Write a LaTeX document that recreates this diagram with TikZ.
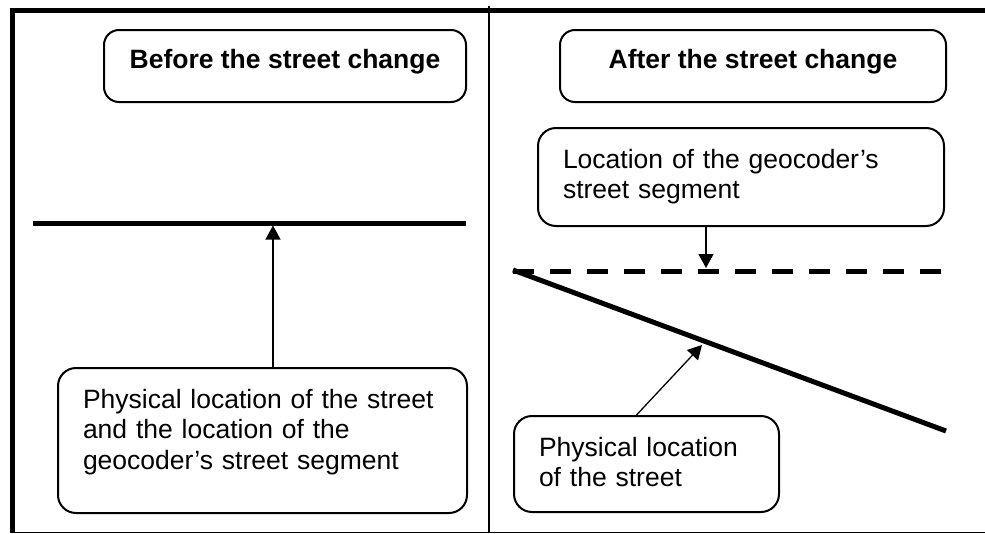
\documentclass[tikz,border=0pt]{standalone}
\usepackage{fontspec}
\setmainfont{Liberation Sans}
\usetikzlibrary{arrows.meta}
\begin{document}
\begin{tikzpicture}[x=1pt,y=-1pt,
  headbox/.style={draw, line width=2pt, rounded corners=15pt, inner sep=0pt, text height=38pt, text depth=34pt, font=\fontsize{26.5}{30.5}\selectfont\bfseries},
  notebox/.style={draw, line width=2pt, rounded corners=18pt, anchor=north west, inner xsep=25pt, inner ysep=0pt, text height=40pt, align=left, font=\fontsize{26.5}{30.5}\selectfont},
  street/.style={line width=5pt},
  arr/.style={line width=1.3pt, -{Triangle[width=15pt,length=14pt]}}]
  \useasboundingbox (0,0) rectangle (985,533);
  \draw[line width=5.5pt] (10,10.3) -- (985,10.3);
  \draw[line width=5pt] (12.5,7.5) -- (12.5,533);
  \draw[line width=1.5pt] (10,532.5) -- (985,532.5);
  \draw[line width=1.5pt] (489,6) -- (489,533);

  \node[headbox, minimum width=362pt] (before) at (285,66) {Before the street change};
  \node[headbox, minimum width=386pt] (after) at (753,66) {After the street change};

  \node[notebox, text width=359pt, text depth=105pt] (samebox) at (57,367) {Physical location of the street\\ and the location of the\\ geocoder’s street segment};
  \node[notebox, text width=356pt, text depth=58pt] (geobox) at (537,127) {Location of the geocoder’s\\ street segment};
  \node[notebox, text width=215pt, text depth=56pt] (physbox) at (513,415) {Physical location\\ of the street};

  \coordinate (oldA) at (33,223);
  \coordinate (oldB) at (466,223);
  \coordinate (tipA) at (273,225.5);
  \draw[street] (oldA) -- (oldB);
  \draw[arr] (samebox.north -| tipA) -- (tipA);

  \coordinate (segA) at (513,271);
  \coordinate (segB) at (946,271);
  \coordinate (tipB) at (706,268);
  \draw[street, dash pattern=on 21pt off 16pt] (segA) -- (segB);
  \draw[arr] (geobox.south -| tipB) -- (tipB);

  \coordinate (newA) at (513,270);
  \coordinate (newB) at (946,431);
  \coordinate (tipC) at (702,345);
  \draw[street] (newA) -- (newB);
  \draw[arr] ([xshift=-10pt]physbox.north) -- (tipC);
\end{tikzpicture}
\end{document}
